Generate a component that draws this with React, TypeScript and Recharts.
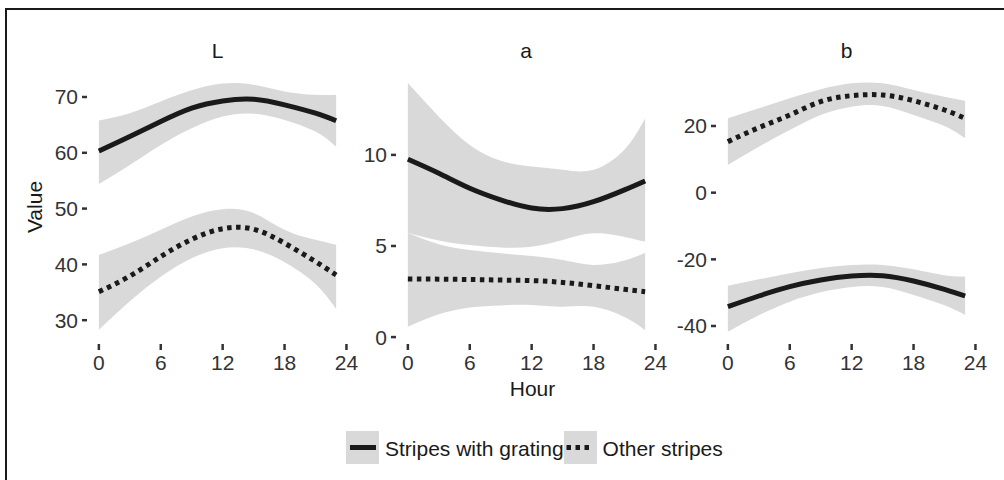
import React from 'react';
import { ComposedChart, Area, Line, XAxis, YAxis, Legend } from 'recharts';

const HOURS = [0, 3, 6, 9, 12, 15, 18, 21, 23];
const HOUR_TICKS = [0, 6, 12, 18, 24];
const SERIES = ['Stripes with grating', 'Other stripes'];

// L panel
const L_GRATING = [60.3, 62.9, 65.6, 68.0, 69.3, 69.6, 68.6, 67.1, 65.75];
const L_GRATING_LO = [54.4, 57.8, 61.4, 64.4, 66.5, 67.0, 65.9, 63.8, 61.1];
const L_GRATING_HI = [65.8, 67.1, 69.2, 71.2, 72.4, 72.2, 71.0, 70.4, 70.4];
const L_OTHER = [35.1, 37.9, 41.4, 44.5, 46.4, 46.3, 43.8, 40.5, 38.1];
const L_OTHER_LO = [28.3, 33.4, 37.8, 41.1, 42.9, 42.7, 40.4, 36.5, 32.0];
const L_OTHER_HI = [41.7, 43.8, 46.2, 48.6, 49.9, 49.2, 46.2, 44.4, 43.5];
const L_TICKS = [30, 40, 50, 60, 70];

// a panel
const A_GRATING = [9.76, 8.99, 8.17, 7.53, 7.08, 7.05, 7.43, 8.08, 8.57];
const A_GRATING_LO = [5.73, 5.3, 5.05, 4.92, 4.96, 5.33, 5.7, 5.5, 5.24];
const A_GRATING_HI = [13.94, 12.1, 10.55, 9.68, 9.36, 9.18, 9.18, 10.3, 12.0];
const A_OTHER = [3.19, 3.18, 3.16, 3.13, 3.1, 3.0, 2.82, 2.62, 2.49];
const A_OTHER_LO = [0.57, 1.25, 1.63, 1.74, 1.76, 1.67, 1.67, 1.1, 0.38];
const A_OTHER_HI = [5.73, 5.1, 4.78, 4.6, 4.45, 4.23, 3.96, 4.2, 4.63];
const A_TICKS = [0, 5, 10];

// b panel
const B_GRATING = [-34.2, -31.0, -28.2, -26.2, -25.0, -24.9, -26.5, -29.0, -31.0];
const B_GRATING_LO = [-41.7, -36.8, -32.7, -29.9, -28.3, -28.3, -30.7, -33.8, -36.7];
const B_GRATING_HI = [-27.9, -26.0, -24.2, -22.6, -21.7, -21.7, -23.0, -24.8, -25.2];
const B_OTHER = [15.3, 19.5, 23.3, 27.3, 29.1, 29.3, 27.6, 24.8, 22.3];
const B_OTHER_LO = [8.3, 13.8, 18.8, 23.3, 25.8, 26.0, 23.3, 20.0, 16.3];
const B_OTHER_HI = [22.3, 25.3, 28.3, 31.0, 32.8, 32.8, 30.8, 28.8, 27.6];
const B_TICKS = [-40, -20, 0, 20];

const INK = '#1a1a1a';
const BAND = '#d9d9d9';
const FONT = '"Liberation Sans", Arial, Helvetica, sans-serif';
const FONT_SIZE = 21;

const PANEL_W = 261;
const PANEL_H = 274;
const PANEL_TOP = 70;
const AXIS_W = 60;
const AXIS_H = 34;
const PAD_R = 24;

interface PanelProps {
  title: string;
  left: number;
  domain: [number, number];
  ticks: number[];
  grating: number[];
  gratingLo: number[];
  gratingHi: number[];
  other: number[];
  otherLo: number[];
  otherHi: number[];
  legend?: boolean;
}

const renderLegend = () => (
  <div style={{ display: 'flex', alignItems: 'center', fontFamily: FONT, fontSize: FONT_SIZE, color: INK }}>
    {SERIES.map((name, i) => (
      <div key={name} style={{ display: 'flex', alignItems: 'center' }}>
        <svg width={33} height={33}>
          <rect width={33} height={33} fill={BAND} />
          {i === 0 ? (
            <line x1={4} x2={30} y1={16.5} y2={16.5} stroke={INK} strokeWidth={5} />
          ) : (
            <line x1={2.5} x2={26} y1={16.5} y2={16.5} stroke={INK} strokeWidth={5} strokeDasharray="4.5 4.5" />
          )}
        </svg>
        <span style={{ marginLeft: 6, paddingTop: 3 }}>{name}</span>
      </div>
    ))}
  </div>
);

const Panel: React.FC<PanelProps> = (p) => {
  const rows = HOURS.map((hour, i) => ({
    hour,
    grating: p.grating[i],
    gratingBand: [p.gratingLo[i], p.gratingHi[i]],
    other: p.other[i],
    otherBand: [p.otherLo[i], p.otherHi[i]],
  }));

  const tick = { fill: '#333', fontSize: FONT_SIZE, fontFamily: FONT };

  return (
    <>
      <div
        style={{
          position: 'absolute',
          left: p.left,
          top: 41,
          width: PANEL_W,
          textAlign: 'center',
          fontFamily: FONT,
          fontSize: FONT_SIZE,
          lineHeight: '20px',
          color: INK,
        }}
      >
        {p.title}
      </div>
      <div style={{ position: 'absolute', left: p.left - AXIS_W, top: PANEL_TOP }}>
        <ComposedChart
          width={AXIS_W + PANEL_W + PAD_R}
          height={PANEL_H + AXIS_H}
          data={rows}
          margin={{ top: 0, right: PAD_R, bottom: 0, left: 0 }}
        >
          <XAxis
            dataKey="hour"
            type="number"
            domain={[-1.15, 24.15]}
            ticks={HOUR_TICKS}
            interval={0}
            allowDataOverflow
            height={AXIS_H}
            axisLine={false}
            tickSize={6}
            tickMargin={5}
            tickLine={{ stroke: '#333', strokeWidth: 2.5 }}
            tick={tick}
          />
          <YAxis
            type="number"
            domain={p.domain}
            ticks={p.ticks}
            interval={0}
            allowDataOverflow
            width={AXIS_W}
            axisLine={false}
            tickSize={5}
            tickMargin={4}
            tickLine={{ stroke: '#333', strokeWidth: 2.5 }}
            tick={tick}
          />
          <Area dataKey="gratingBand" type="natural" stroke="none" fill={BAND} fillOpacity={1} isAnimationActive={false} />
          <Area dataKey="otherBand" type="natural" stroke="none" fill={BAND} fillOpacity={1} isAnimationActive={false} />
          <Line dataKey="grating" name={SERIES[0]} type="natural" stroke={INK} strokeWidth={5} dot={false} isAnimationActive={false} />
          <Line
            dataKey="other"
            name={SERIES[1]}
            type="natural"
            stroke={INK}
            strokeWidth={5}
            strokeDasharray="4.5 4.5"
            dot={false}
            isAnimationActive={false}
          />
          {p.legend && (
            <Legend
              layout="horizontal"
              verticalAlign="middle"
              align="center"
              content={renderLegend}
              wrapperStyle={{ top: 361, left: 346 - (p.left - AXIS_W), width: 420, height: 33 }}
            />
          )}
        </ComposedChart>
      </div>
    </>
  );
};

const App: React.FC = () => {
  return (
    <div
      style={{
        position: 'absolute',
        left: 0,
        top: 0,
        width: 1004,
        height: 480,
        overflow: 'hidden',
        background: '#fff',
      }}
    >
      <div
        style={{
          position: 'absolute',
          left: 5,
          top: 8,
          width: 1010,
          height: 490,
          borderTop: `2px solid ${INK}`,
          borderLeft: `2px solid ${INK}`,
        }}
      />
      <Panel
        title="L"
        left={87}
        domain={[25.73, 74.84]}
        ticks={L_TICKS}
        grating={L_GRATING}
        gratingLo={L_GRATING_LO}
        gratingHi={L_GRATING_HI}
        other={L_OTHER}
        otherLo={L_OTHER_LO}
        otherHi={L_OTHER_HI}
      />
      <Panel
        title="a"
        left={395.5}
        domain={[-0.38, 14.66]}
        ticks={A_TICKS}
        grating={A_GRATING}
        gratingLo={A_GRATING_LO}
        gratingHi={A_GRATING_HI}
        other={A_OTHER}
        otherLo={A_OTHER_LO}
        otherHi={A_OTHER_HI}
        legend
      />
      <Panel
        title="b"
        left={716}
        domain={[-45.4, 36.8]}
        ticks={B_TICKS}
        grating={B_GRATING}
        gratingLo={B_GRATING_LO}
        gratingHi={B_GRATING_HI}
        other={B_OTHER}
        otherLo={B_OTHER_LO}
        otherHi={B_OTHER_HI}
      />
      <div
        style={{
          position: 'absolute',
          left: 34.5 - 50,
          top: 207 - 10,
          width: 100,
          height: 20,
          lineHeight: '20px',
          textAlign: 'center',
          transform: 'rotate(-90deg)',
          fontFamily: FONT,
          fontSize: FONT_SIZE,
          color: INK,
        }}
      >
        Value
      </div>
      <div
        style={{
          position: 'absolute',
          left: 532.5 - 100,
          top: 378.5,
          width: 200,
          lineHeight: '20px',
          textAlign: 'center',
          fontFamily: FONT,
          fontSize: FONT_SIZE,
          color: INK,
        }}
      >
        Hour
      </div>
    </div>
  );
};

export default App;
